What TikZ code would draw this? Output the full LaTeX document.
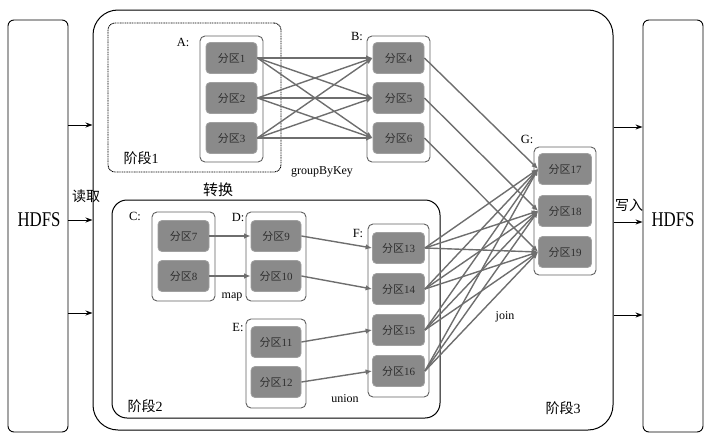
\documentclass[tikz,border=0pt]{standalone}
\usepackage{fontspec}
\setmainfont{Liberation Serif}
\newfontfamily\cjk{Noto Sans CJK SC}
\newfontfamily\hdfsfont[FakeStretch=0.8]{Liberation Serif}
\usetikzlibrary{arrows.meta}
\definecolor{partgray}{HTML}{8A8A8A}
\definecolor{partedge}{HTML}{A0A0A0}
\definecolor{txtgray}{HTML}{2E2E2E}
\definecolor{contgray}{HTML}{606060}
\definecolor{linegray}{HTML}{6E6E6E}
\newcommand{\fq}[1]{{\cjk 分区}#1}
\tikzset{
 part/.style={rounded corners=4pt, fill=partgray, draw=partedge, line width=0.8pt, minimum width=51pt, minimum height=31pt, inner sep=0pt, font=\fontsize{11}{12}\selectfont, text=txtgray},
 cont/.style={draw=contgray, line width=0.9pt, rounded corners=5pt, fill=white, inner sep=0pt},
 conn/.style={draw=linegray, line width=1.4pt, -{Latex[length=6.5pt,width=5.5pt]}},
 harrow/.style={draw=black, line width=0.9pt, -{Stealth[length=7pt,width=5pt]}},
 lbl/.style={font=\fontsize{12.5}{13}\selectfont, inner sep=0pt},
 smalllbl/.style={font=\fontsize{12}{13}\selectfont, inner sep=0pt},
 stagelbl/.style={font=\fontsize{14}{15}\selectfont, inner sep=0pt},
 hdfs/.style={draw=black, line width=0.9pt, rounded corners=6pt, minimum width=60pt, minimum height=412pt, inner sep=0pt},
}
\begin{document}
\begin{tikzpicture}[x=1pt,y=-1pt]
\useasboundingbox (0,0) rectangle (710,439);
% outer boxes
\node[hdfs] (HL) at (38,226) {};
\node[hdfs] (HR) at (673,226) {};
\node[font=\hdfsfont\fontsize{21}{23}\selectfont] (HLt) at (39,220) {HDFS};
\node[font=\hdfsfont\fontsize{21}{23}\selectfont] (HRt) at (673,220) {HDFS};
\node[draw=black, line width=1pt, rounded corners=25pt, minimum width=520pt, minimum height=420pt, inner sep=0pt] (S3) at (353,220) {};
\node[draw=black, line width=0.9pt, dash pattern=on 1pt off 0.7pt, rounded corners=7pt, minimum width=173pt, minimum height=149pt, inner sep=0pt] (S1) at (194.5,97.5) {};
\node[draw=black, line width=1pt, rounded corners=15pt, minimum width=328pt, minimum height=218pt, inner sep=0pt] (S2) at (276,309) {};
% HDFS arrows
\foreach \y in {125,220,313} \draw[harrow] (HL.east |- 0,\y) -- (S3.west |- 0,\y);
\foreach \y in {127,222,315} \draw[harrow] (S3.east |- 0,\y) -- (HR.west |- 0,\y);
% containers
\node[cont, minimum width=63pt, minimum height=126pt] (A) at (231.5,99) {};
\node[cont, minimum width=63pt, minimum height=126pt] (B) at (398.5,99) {};
\node[cont, minimum width=63pt, minimum height=89pt] (C) at (183.5,256.5) {};
\node[cont, minimum width=60pt, minimum height=89pt] (D) at (276,256.5) {};
\node[cont, minimum width=60pt, minimum height=89pt] (E) at (276,363.5) {};
\node[cont, minimum width=61pt, minimum height=173pt] (F) at (398.5,310.5) {};
\node[cont, minimum width=62pt, minimum height=128pt] (G) at (565,211) {};
% partitions
\node[part] (p1) at (231.5,58) {\fq{1}};
\node[part] (p2) at (231.5,98) {\fq{2}};
\node[part] (p3) at (231.5,138) {\fq{3}};
\node[part] (p4) at (398.5,58) {\fq{4}};
\node[part] (p5) at (398.5,98) {\fq{5}};
\node[part] (p6) at (398.5,138) {\fq{6}};
\node[part] (p7) at (183.5,236) {\fq{7}};
\node[part] (p8) at (183.5,276) {\fq{8}};
\node[part, minimum width=50pt] (p9) at (276,236) {\fq{9}};
\node[part, minimum width=50pt] (p10) at (276,276) {\fq{10}};
\node[part, minimum width=50pt] (p11) at (276,342) {\fq{11}};
\node[part, minimum width=50pt] (p12) at (276,382) {\fq{12}};
\node[part, minimum width=52pt] (p13) at (398.5,248) {\fq{13}};
\node[part, minimum width=52pt] (p14) at (398.5,289) {\fq{14}};
\node[part, minimum width=52pt] (p15) at (398.5,330) {\fq{15}};
\node[part, minimum width=52pt] (p16) at (398.5,371) {\fq{16}};
\node[part, minimum width=53pt] (p17) at (565,169) {\fq{17}};
\node[part, minimum width=53pt] (p18) at (565,211) {\fq{18}};
\node[part, minimum width=53pt] (p19) at (565,252) {\fq{19}};
% connectors
\foreach \i in {1,2,3} \foreach \j in {4,5,6} \draw[conn] (p\i.east) -- (p\j.west);
\draw[conn] (p4.east) -- (p17.west);
\draw[conn] (p5.east) -- (p18.west);
\draw[conn] (p6.east) -- (p19.west);
\draw[conn] (p7.east) -- (p9.west);
\draw[conn] (p8.east) -- (p10.west);
\draw[conn] (p9.east) -- (p13.west);
\draw[conn] (p10.east) -- (p14.west);
\draw[conn] (p11.east) -- (p15.west);
\draw[conn] (p12.east) -- (p16.west);
\foreach \i in {13,14,15,16} \foreach \j in {17,18,19} \draw[conn] (p\i.east) -- (p\j.west);
% labels
\node[lbl] (lA) at (183,42) {A:};
\node[lbl] (lB) at (357,36) {B:};
\node[lbl] (lC) at (135,216) {C:};
\node[lbl] (lD) at (238,217) {D:};
\node[lbl] (lE) at (238,327) {E:};
\node[lbl] (lF) at (358,233) {F:};
\node[lbl] (lG) at (527,139) {G:};
\node[smalllbl] (gbk) at (322,172) {groupByKey};
\node[smalllbl] (lmap) at (232,297) {map};
\node[smalllbl] (lunion) at (345,399) {union};
\node[smalllbl] (ljoin) at (505,317) {join};
\node[stagelbl] (st1) at (141,158) {{\cjk 阶段}1};
\node[stagelbl] (st2) at (145,406) {{\cjk 阶段}2};
\node[stagelbl] (st3) at (563,408) {{\cjk 阶段}3};
\node[font=\cjk\fontsize{15}{16}\selectfont, inner sep=0pt] (zh) at (218,190) {转换};
\node[font=\cjk\fontsize{14}{15}\selectfont, inner sep=0pt] (rd) at (86,196) {读取};
\node[font=\cjk\fontsize{14}{15}\selectfont, inner sep=0pt] (wr) at (629,205) {写入};
\end{tikzpicture}
\end{document}
